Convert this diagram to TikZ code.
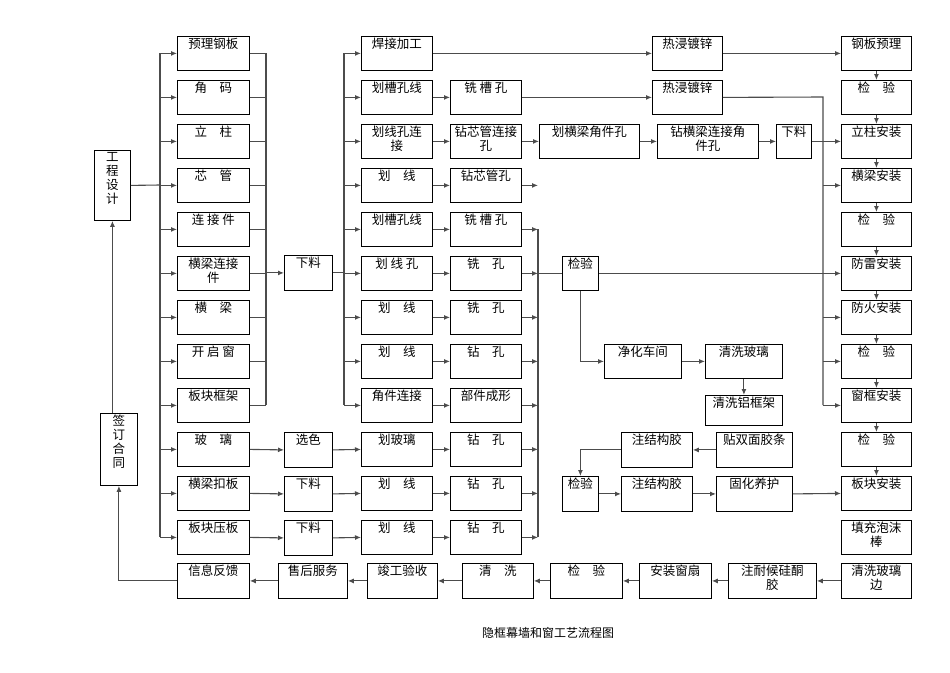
\documentclass[tikz,border=0pt]{standalone}
\usepackage{fontspec}
\setmainfont{Noto Sans CJK SC}
\usetikzlibrary{arrows.meta}
\begin{document}
\begin{tikzpicture}[x=1pt,y=-1pt,
  bx/.style={draw=black,line width=0.8pt,inner sep=0pt,anchor=north west},
  lbl/.style={anchor=north,inner sep=1pt,align=center,font=\fontsize{12.5}{14}\selectfont,yshift=-1pt},
  ln/.style={draw=black!70,line width=1.1pt},
  ar/.style={ln,-{Latex[length=6pt,width=5pt]}}]
\newcommand\bx[6]{\node[bx,minimum width={(#4-#2)*1pt},minimum height={(#5-#3)*1pt}] (#1) at (#2,#3) {};
  \node[lbl] at (#1.north) {#6};}
\useasboundingbox (0,0) rectangle (950,672);
% design and contract
\bx{gc}{94}{150}{130}{220}{工\\程\\设\\计}
\bx{qd}{100}{413}{137}{485}{签\\订\\合\\同}
% column 1
\foreach \i/\t in {1/预理钢板,2/角\quad 码,3/立\quad 柱,4/芯\quad 管,5/连 接 件,6/横梁连接\\件,7/横\quad 梁,8/开 启 窗,9/板块框架,10/玻\quad 璃,11/横梁扣板,12/板块压板}{
  \pgfmathsetmacro\yt{36+44*(\i-1)}
  \bx{m\i}{177}{\yt}{249}{\yt+34}{\t}
}
\bx{xl}{284}{255}{332}{290}{下料}
% column c
\foreach \i/\t in {1/焊接加工,2/划槽孔线,3/划线孔连\\接,4/划\quad 线,5/划槽孔线,6/划 线 孔,7/划\quad 线,8/划\quad 线,9/角件连接,10/划玻璃,11/划\quad 线,12/划\quad 线}{
  \pgfmathsetmacro\yt{36+44*(\i-1)}
  \bx{c\i}{361}{\yt}{432}{\yt+34}{\t}
}
\foreach \i/\t in {2/铣 槽 孔,3/钻芯管连接\\孔,4/钻芯管孔,5/铣 槽 孔,6/铣\quad 孔,7/铣\quad 孔,8/钻\quad 孔,9/部件成形,10/钻\quad 孔,11/钻\quad 孔,12/钻\quad 孔}{
  \pgfmathsetmacro\yt{36+44*(\i-1)}
  \bx{d\i}{450}{\yt}{521}{\yt+34}{\t}
}
\bx{b10}{284}{432}{332}{467}{选色}
\bx{b11}{284}{476}{332}{511}{下料}
\bx{b12}{284}{520}{332}{555}{下料}
% right column
\foreach \i/\t in {1/钢板预理,2/检\quad 验,3/立柱安装,4/横梁安装,5/检\quad 验,6/防雷安装,7/防火安装,8/检\quad 验,9/窗框安装,10/检\quad 验,11/板块安装,12/填充泡沫\\棒}{
  \pgfmathsetmacro\yt{36+44*(\i-1)}
  \bx{r\i}{841}{\yt}{911}{\yt+34}{\t}
}
\bx{rj1}{652}{36}{722}{70}{热浸镀锌}
\bx{rj2}{652}{80}{722}{114}{热浸镀锌}
\bx{hj}{539}{124}{639}{158}{划横梁角件孔}
\bx{zh}{657}{124}{758}{158}{钻横梁连接角\\件孔}
\bx{xl2}{776}{124}{811}{158}{下料}
\bx{jy}{562}{256}{598}{290}{检验}
\bx{jh}{604}{344}{681}{378}{净化车间}
\bx{qx}{705}{344}{782}{378}{清洗玻璃}
\bx{ql}{705}{395}{782}{425}{清洗铝框架}
\bx{zj1}{621}{432}{692}{467}{注结构胶}
\bx{tb}{716}{432}{792}{467}{贴双面胶条}
\bx{jy2}{562}{476}{598}{511}{检验}
\bx{zj2}{621}{476}{692}{511}{注结构胶}
\bx{gh}{716}{476}{792}{511}{固化养护}
% bottom row
\bx{e1}{177}{563}{249}{598}{信息反馈}
\bx{e2}{278}{563}{347}{598}{售后服务}
\bx{e3}{367}{563}{437}{598}{竣工验收}
\bx{e4}{462}{563}{533}{598}{清\quad 洗}
\bx{e5}{550}{563}{622}{598}{检\quad 验}
\bx{e6}{639}{563}{711}{598}{安装窗扇}
\bx{e7}{728}{563}{816}{598}{注耐候硅酮\\胶}
\bx{e8}{841}{563}{911}{598}{清洗玻璃\\边}
\node[font=\fontsize{12}{14}\selectfont] (cap) at (548,633) {隐框幕墙和窗工艺流程图};
% connectors left
\draw[ln] (gc.east) -- (160,185);
\draw[ln] (160,53) -- (160,537);
\foreach \i in {1,...,12}{\draw[ar] (160,0 |- m\i.west) -- (m\i.west);}
\foreach \i in {1,...,9}{\draw[ln] (m\i.east) -- (266,0 |- m\i.east);}
\draw[ln] (266,53) -- (266,405);
\draw[ar] (266,0 |- xl.west) -- (xl.west);
\draw[ln] (xl.east) -- (344,0 |- xl.east);
\draw[ln] (344,53) -- (344,405);
\foreach \i in {1,...,9}{\draw[ar] (344,0 |- c\i.west) -- (c\i.west);}
\foreach \i in {2,...,12}{\draw[ar] (c\i.east) -- (d\i.west);}
\foreach \i in {10,11,12}{\draw[ar] (m\i.east) -- (b\i.west); \draw[ar] (b\i.east) -- (c\i.west);}
\foreach \i in {4,...,12}{\draw[ar] (d\i.east) -- (538,0 |- d\i.east);}
\draw[ln] (538,229) -- (538,537);
\draw[ln] (538,0 |- jy.west) -- (jy.west);
\draw[ar] (jy.east) -- (r6.west);
\draw[ar] (jy.south) |- (jh.west);
\draw[ar] (jh.east) -- (qx.west);
\draw[ar] (qx.south) -- (ql.north);
\draw[ar] (c1.east) -- (rj1.west);
\draw[ar] (rj1.east) -- (r1.west);
\draw[ar] (d2.east) -- (rj2.west);
\draw[ar] (d3.east) -- (hj.west);
\draw[ar] (hj.east) -- (zh.west);
\draw[ar] (zh.east) -- (xl2.west);
\draw[ar] (xl2.east) -- (r3.west);
\draw[ln] (rj2.east) -- (823,97) -- (823,405);
\foreach \i in {4,7,8,9}{\draw[ar] (823,0 |- r\i.west) -- (r\i.west);}
\foreach \i [evaluate=\i as \j using int(\i+1)] in {1,...,10}{\draw[ar] (r\i.south) -- (r\j.north);}
\draw[ar] (tb.west) -- (zj1.east);
\draw[ar] (zj1.west) -| (jy2.north);
\draw[ar] (jy2.east) -- (zj2.west);
\draw[ar] (zj2.east) -- (gh.west);
\draw[ar] (gh.east) -- (r11.west);
\draw[ar] (e8.west) -- (e7.east);
\draw[ar] (e7.west) -- (e6.east);
\draw[ar] (e6.west) -- (e5.east);
\draw[ar] (e5.west) -- (e4.east);
\draw[ar] (e4.west) -- (e3.east);
\draw[ar] (e3.west) -- (e2.east);
\draw[ar] (e2.west) -- (e1.east);
\draw[ar] (e1.west) -| (qd.south);
\draw[ar] (qd.north -| gc.south) -- (gc.south);
\end{tikzpicture}
\end{document}
